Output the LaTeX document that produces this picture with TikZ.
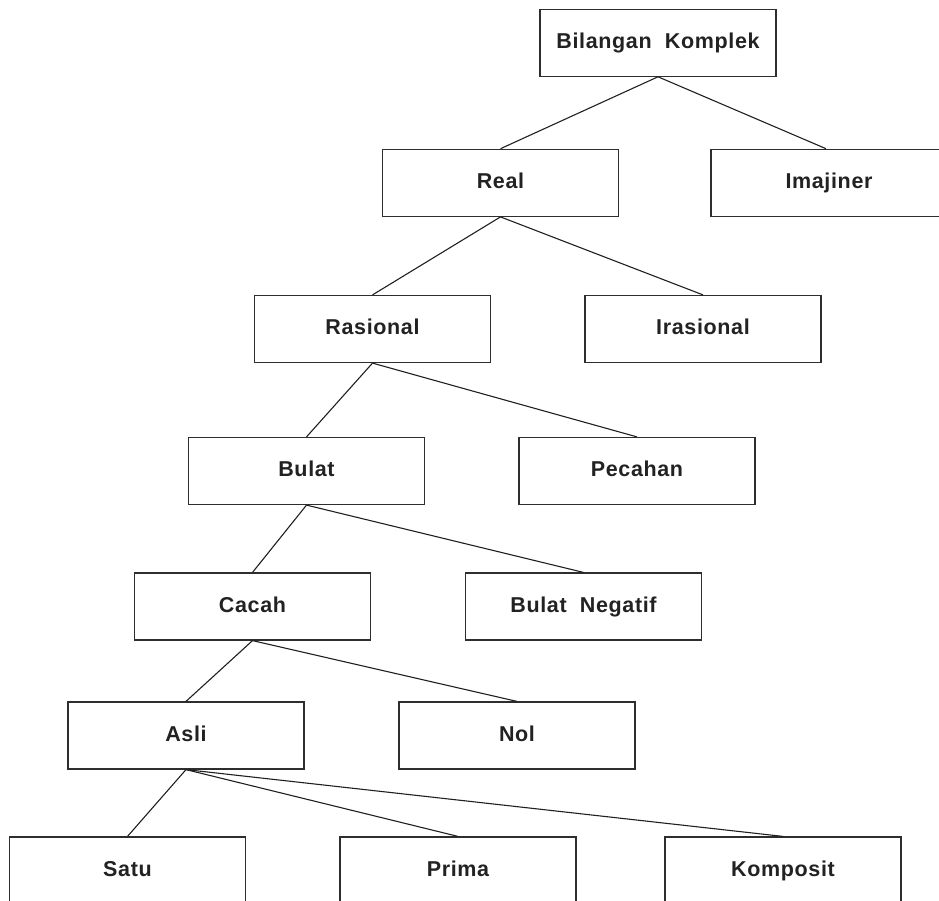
\documentclass[tikz,border=0pt]{standalone}
\usepackage{fontspec}
\setmainfont{Liberation Sans}[LetterSpace=3]
\definecolor{boxc}{HTML}{2E2E2E}
\definecolor{linec}{HTML}{202020}
\definecolor{txtc}{HTML}{222222}
\begin{document}
\begin{tikzpicture}[x=1pt,y=-1pt,
  box/.style={draw=boxc, line width=1.2pt, minimum width=236pt, minimum height=67pt,
    inner sep=0pt, text height=15pt, text depth=4pt,
    font=\fontsize{21.5}{25}\selectfont\bfseries, text=txtc},
  link/.style={draw=linec, line width=1.1pt}]
\useasboundingbox (0,0) rectangle (939,901);
\clip (0,0) rectangle (939,901);
\node[box] (komplek) at (658,42.7) {Bilangan\ \ Komplek};
\node[box] (real) at (500.5,182.8) {Real};
\node[box] (imaj) at (829,182.8) {Imajiner};
\node[box] (rasional) at (372.5,329) {Rasional};
\node[box] (irasional) at (703,329) {Irasional};
\node[box] (bulat) at (306.5,471) {Bulat};
\node[box] (pecahan) at (637,471) {Pecahan};
\node[box] (cacah) at (252.5,606.5) {Cacah};
\node[box] (bneg) at (583.5,606.5) {Bulat\ \ Negatif};
\node[box] (asli) at (186,735.5) {Asli};
\node[box] (nol) at (517,735.5) {Nol};
\node[box] (satu) at (127.5,870.5) {Satu};
\node[box] (prima) at (458,870.5) {Prima};
\node[box] (komposit) at (783,870.5) {Komposit};
\draw[link] (komplek.south) -- (real.north);
\draw[link] (komplek.south) -- ([xshift=-3pt]imaj.north);
\draw[link] (real.south) -- (rasional.north);
\draw[link] (real.south) -- (irasional.north);
\draw[link] (rasional.south) -- (bulat.north);
\draw[link] (rasional.south) -- (pecahan.north);
\draw[link] (bulat.south) -- (cacah.north);
\draw[link] (bulat.south) -- (bneg.north);
\draw[link] (cacah.south) -- (asli.north);
\draw[link] (cacah.south) -- (nol.north);
\draw[link] (asli.south) -- (satu.north);
\draw[link] (asli.south) -- (prima.north);
\draw[link] (asli.south) -- (komposit.north);
\end{tikzpicture}
\end{document}
